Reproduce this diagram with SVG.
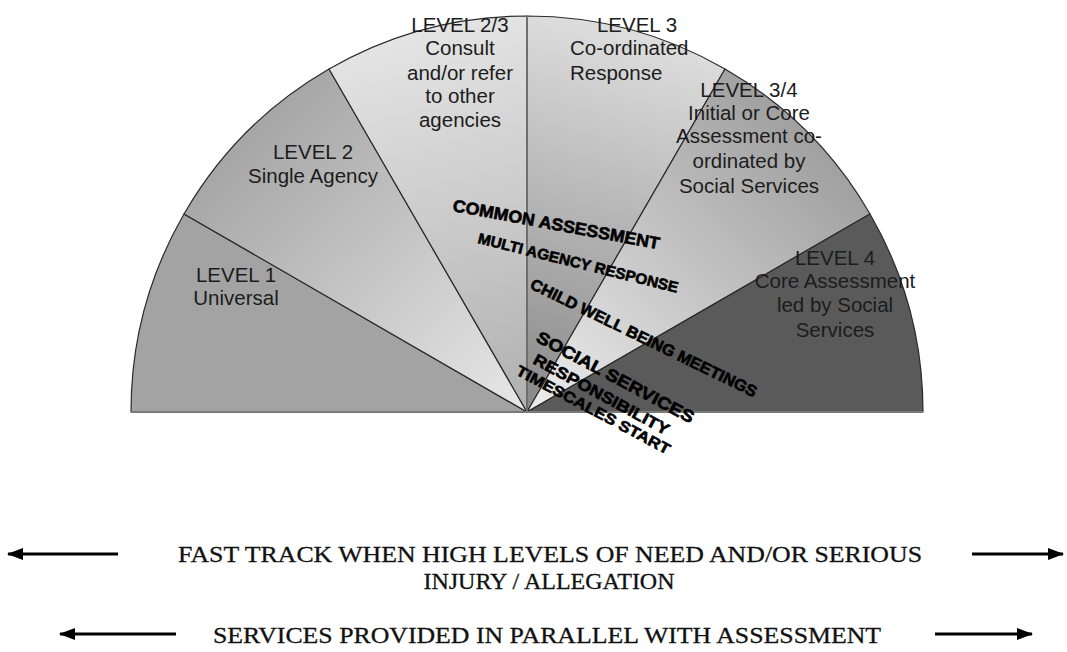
<svg xmlns="http://www.w3.org/2000/svg" width="1067" height="652" viewBox="0 0 1067 652">
<style>
.sec{stroke:#2a2a2a;stroke-width:1.2;stroke-linejoin:round}
.lbl{font-family:"Liberation Sans",Arial,sans-serif;font-size:20.5px;fill:#1c1c1c;text-anchor:middle}
.bold{font-family:"Liberation Sans",Arial,sans-serif;font-weight:bold;fill:#000;stroke:#000;stroke-width:0.6}
.cap{font-family:"Liberation Serif","Times New Roman",serif;font-size:24px;fill:#111;text-anchor:middle;stroke:#111;stroke-width:0.3}
.arr{stroke:#000;stroke-width:2.8;fill:none}
</style>
<defs>
<linearGradient id="g2" gradientUnits="userSpaceOnUse" x1="247" y1="132" x2="527" y2="412"><stop offset="0" stop-color="#a6a6a6"/><stop offset="1" stop-color="#e8e8e8"/></linearGradient>
<linearGradient id="g23" gradientUnits="userSpaceOnUse" x1="425" y1="30" x2="527" y2="412"><stop offset="0" stop-color="#e4e4e4"/><stop offset="1" stop-color="#b0b0b0"/></linearGradient>
<linearGradient id="g3" gradientUnits="userSpaceOnUse" x1="629" y1="30" x2="527" y2="412"><stop offset="0" stop-color="#dedede"/><stop offset="1" stop-color="#888888"/></linearGradient>
<linearGradient id="g34" gradientUnits="userSpaceOnUse" x1="807" y1="132" x2="527" y2="412"><stop offset="0" stop-color="#a0a0a0"/><stop offset="1" stop-color="#eeeeee"/></linearGradient>
<marker id="ah" viewBox="0 0 16 12" refX="15" refY="6" markerWidth="16" markerHeight="12" markerUnits="userSpaceOnUse" orient="auto"><path d="M0,0 L16,6 L0,12 Z" fill="#000"/></marker>
</defs>

<g id="level1">
<path class="sec" d="M527,412 L131,412 A396,396 0 0 1 184,214 Z" fill="#a3a3a3"/>
<text class="lbl" x="236" y="282">LEVEL 1</text>
<text class="lbl" x="236" y="305">Universal</text>
</g>
<g id="level2">
<path class="sec" d="M527,412 L184,214 A396,396 0 0 1 329,69 Z" fill="url(#g2)"/>
<text class="lbl" x="313" y="159">LEVEL 2</text>
<text class="lbl" x="313" y="183">Single Agency</text>
</g>
<g id="level23">
<path class="sec" d="M527,412 L329,69 A396,396 0 0 1 527,16 Z" fill="url(#g23)"/>
<text class="lbl" x="460" y="32">LEVEL 2/3</text>
<text class="lbl" x="460" y="55">Consult</text>
<text class="lbl" x="460" y="80">and/or refer</text>
<text class="lbl" x="460" y="103">to other</text>
<text class="lbl" x="460" y="127">agencies</text>
</g>
<g id="level3">
<path class="sec" d="M527,412 L527,16 A396,396 0 0 1 725,69 Z" fill="url(#g3)"/>
<text class="lbl" x="637" y="32">LEVEL 3</text>
<text class="lbl" x="570" y="55" style="text-anchor:start">Co-ordinated</text>
<text class="lbl" x="570" y="80" style="text-anchor:start">Response</text>
</g>
<g id="level34">
<path class="sec" d="M527,412 L725,69 A396,396 0 0 1 870,214 Z" fill="url(#g34)"/>
<text class="lbl" x="749" y="97">LEVEL 3/4</text>
<text class="lbl" x="749" y="120">Initial or Core</text>
<text class="lbl" x="749" y="143">Assessment co-</text>
<text class="lbl" x="749" y="168">ordinated by</text>
<text class="lbl" x="749" y="193">Social Services</text>
</g>
<g id="level4">
<path class="sec" d="M527,412 L870,214 A396,396 0 0 1 923,412 Z" fill="#5a5a5a"/>
<text class="lbl" x="835" y="265">LEVEL 4</text>
<text class="lbl" x="835" y="288">Core Assessment</text>
<text class="lbl" x="835" y="312">led by Social</text>
<text class="lbl" x="835" y="337">Services</text>
</g>
<g id="axis">
<line x1="527" y1="16" x2="527" y2="412" stroke="#6e6e6e" stroke-width="2"/>
<line x1="131" y1="412" x2="923" y2="412" stroke="#7a7a7a" stroke-width="2"/>
</g>

<g id="bands">
<text class="bold" font-size="17" x="452" y="211" transform="rotate(10.5 452 211)" textLength="210" lengthAdjust="spacingAndGlyphs">COMMON ASSESSMENT</text>
<text class="bold" font-size="15" x="477" y="243" transform="rotate(14 477 243)" textLength="206" lengthAdjust="spacingAndGlyphs">MULTI AGENCY RESPONSE</text>
<text class="bold" font-size="16" x="529" y="288" transform="rotate(26 529 288)" textLength="250" lengthAdjust="spacingAndGlyphs">CHILD WELL BEING MEETINGS</text>
<text class="bold" font-size="17" x="535" y="341" transform="rotate(28 535 341)" textLength="176" lengthAdjust="spacingAndGlyphs">SOCIAL SERVICES</text>
<text class="bold" font-size="16" x="532" y="363" transform="rotate(28.5 532 363)" textLength="152" lengthAdjust="spacingAndGlyphs">RESPONSIBILITY</text>
<text class="bold" font-size="15" x="515" y="374" transform="rotate(28 515 374)" textLength="172" lengthAdjust="spacingAndGlyphs">TIMESCALES START</text>
</g>

<g id="connectors">
<line class="arr" x1="118" y1="554" x2="8" y2="554" marker-end="url(#ah)"/>
<line class="arr" x1="972" y1="554" x2="1063" y2="554" marker-end="url(#ah)"/>
<line class="arr" x1="176" y1="634" x2="60" y2="634" marker-end="url(#ah)"/>
<line class="arr" x1="935" y1="634" x2="1032" y2="634" marker-end="url(#ah)"/>
</g>

<g id="captions">
<text class="cap" x="550" y="562" textLength="744" lengthAdjust="spacingAndGlyphs">FAST TRACK WHEN HIGH LEVELS OF NEED AND/OR SERIOUS</text>
<text class="cap" x="549" y="589">INJURY / ALLEGATION</text>
<text class="cap" x="547" y="643" textLength="668" lengthAdjust="spacingAndGlyphs">SERVICES PROVIDED IN PARALLEL WITH ASSESSMENT</text>
</g>
</svg>
